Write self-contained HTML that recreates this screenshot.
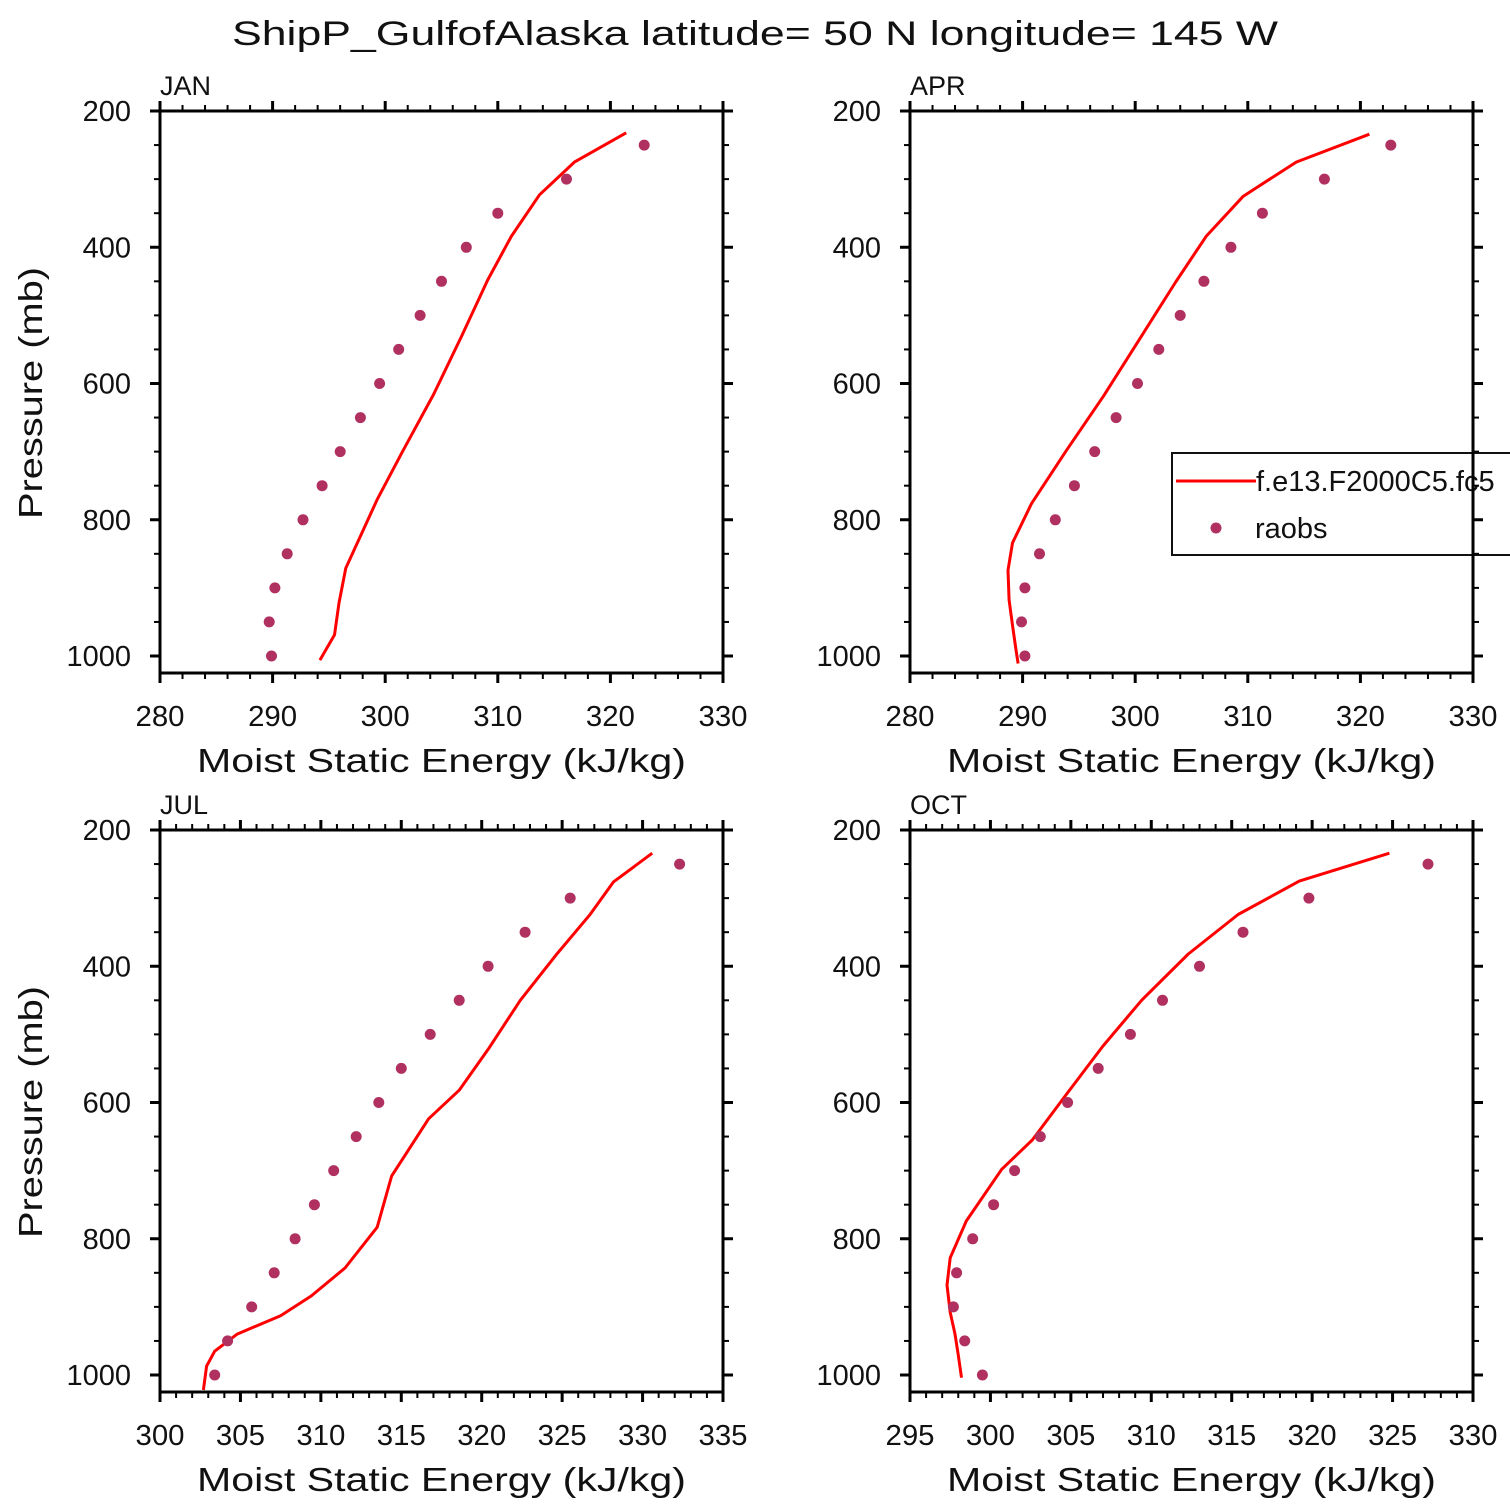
<!DOCTYPE html>
<html><head><meta charset="utf-8"><style>
html,body{margin:0;padding:0;background:#fff;}
svg{display:block;font-family:"Liberation Sans","DejaVu Sans",sans-serif;}
text{fill:#111;}
</style></head><body>
<svg id="chart" width="1510" height="1510" viewBox="0 0 1510 1510" xmlns="http://www.w3.org/2000/svg">
<rect x="0" y="0" width="1510" height="1510" fill="#fff"/>
<text x="755" y="45" text-anchor="middle" font-size="34" textLength="1046" lengthAdjust="spacingAndGlyphs">ShipP_GulfofAlaska  latitude= 50 N longitude= 145 W</text>
<g id="panels"></g>
</svg>
<script>
// ---- data ----
const obsLevels = [250,300,350,400,450,500,550,600,650,700,750,800,850,900,950,1000];
const janModelP = [232,275,323,384,448,530,616,701,770,871,922,969,1006];
const janModelX = [321.4,316.8,313.7,311.2,309.1,306.8,304.3,301.5,299.3,296.5,295.9,295.5,294.2];
const janObsX = [323.0,316.1,310.0,307.2,305.0,303.1,301.2,299.5,297.8,296.0,294.4,292.7,291.3,290.2,289.7,289.9];
const aprModelP = [234,275,325,384,451,532,618,698,776,834,874,918,955,989,1011];
const aprModelX = [320.8,314.3,309.6,306.3,303.6,300.5,297.2,293.9,290.8,289.1,288.7,288.8,289.1,289.4,289.6];
const aprObsX = [322.7,316.8,311.3,308.5,306.1,304.0,302.1,300.2,298.3,296.4,294.6,292.9,291.5,290.2,289.9,290.2];
const julModelP = [234,276,325,384,450,522,582,624,708,783,843,884,913,940,965,987,1022];
const julModelX = [330.6,328.2,326.7,324.6,322.4,320.4,318.6,316.7,314.4,313.5,311.5,309.4,307.5,304.8,303.4,302.9,302.7];
const julObsX = [332.3,325.5,322.7,320.4,318.6,316.8,315.0,313.6,312.2,310.8,309.6,308.4,307.1,305.7,304.2,303.4];
const octModelP = [234,275,324,382,450,517,592,655,698,774,828,868,908,940,971,1004];
const octModelX = [324.8,319.2,315.4,312.3,309.4,307.0,304.6,302.6,300.7,298.5,297.5,297.3,297.5,297.8,298.0,298.2];
const octObsX = [327.2,319.8,315.7,313.0,310.7,308.7,306.7,304.8,303.1,301.5,300.2,298.9,297.9,297.7,298.4,299.5];
const yTickLabels = [200,400,600,800,1000];
const xTicksA = [280,290,300,310,320,330];
const xTicksJul = [300,305,310,315,320,325,330,335];
const xTicksOct = [295,300,305,310,315,320,325,330];

const NS = "http://www.w3.org/2000/svg";
const root = document.getElementById('panels');
function mk(tag, attrs, parent){
  const e = document.createElementNS(NS, tag);
  for (const k in attrs) e.setAttribute(k, attrs[k]);
  (parent||root).appendChild(e);
  return e;
}
const panels = [
  {name:'jan', label:'JAN', x0:160, y0:111, xmin:280, xmax:330, xt:xTicksA, minor:2, mp:janModelP, mx:janModelX, ox:janObsX, ylab:true},
  {name:'apr', label:'APR', x0:910, y0:111, xmin:280, xmax:330, xt:xTicksA, minor:2, mp:aprModelP, mx:aprModelX, ox:aprObsX, ylab:false},
  {name:'jul', label:'JUL', x0:160, y0:830, xmin:300, xmax:335, xt:xTicksJul, minor:1, mp:julModelP, mx:julModelX, ox:julObsX, ylab:true},
  {name:'oct', label:'OCT', x0:910, y0:830, xmin:295, xmax:330, xt:xTicksOct, minor:1, mp:octModelP, mx:octModelX, ox:octObsX, ylab:false}
];
const W = 563, H = 562, pyScale = 545/800;
panels.forEach(p => {
  const g = mk('g', {});
  
  
  const sx = v => p.x0 + (v - p.xmin) / (p.xmax - p.xmin) * W;
  const sy = v => p.y0 + (v - 200) * pyScale;
  const line = mk('polyline', {points: p.mp.map((v,i)=>sx(p.mx[i]).toFixed(1)+','+sy(v).toFixed(1)).join(' '), fill:'none', stroke:'#ff0000', 'stroke-width':3, 'stroke-linejoin':'round'}, g);
  
  
  obsLevels.forEach((lv,i) => {
    const c = mk('circle', {cx:sx(p.ox[i]).toFixed(1), cy:sy(lv).toFixed(1), r:5.5, fill:'#b03060'}, g);
    
    
  });
  if (p.name === 'apr') {
    const lg = mk('g', {}, g);
    
    
    mk('rect', {x:1172, y:453, width:345, height:102, fill:'#fff', stroke:'#111', 'stroke-width':2}, lg);
    mk('line', {x1:1176, y1:481, x2:1256, y2:481, stroke:'#ff0000', 'stroke-width':3}, lg);
    const t1 = mk('text', {x:1256, y:491, 'font-size':29}, lg);
    t1.textContent = 'f.e13.F2000C5.fc5';
    
    
    mk('circle', {cx:1216, cy:528, r:5.5, fill:'#b03060'}, lg);
    const t2 = mk('text', {x:1255, y:538, 'font-size':29}, lg);
    t2.textContent = 'raobs';
    
    
  }
  const fr = mk('rect', {x:p.x0, y:p.y0, width:W, height:H, fill:'none', stroke:'#000', 'stroke-width':3}, g);
  
  
  for (let v = p.xmin; v <= p.xmax + 1e-6; v += p.minor) {
    const major = p.xt.some(t => Math.abs(t - v) < 1e-6);
    const L = major ? 10 : 6, sw = major ? 3 : 2, x = sx(v);
    mk('line', {x1:x, y1:p.y0+H, x2:x, y2:p.y0+H+L, stroke:'#000', 'stroke-width':sw}, g);
    mk('line', {x1:x, y1:p.y0, x2:x, y2:p.y0-L, stroke:'#000', 'stroke-width':sw}, g);
  }
  p.xt.forEach(v => {
    const t = mk('text', {x:sx(v), y:p.y0+H+53, 'text-anchor':'middle', 'font-size':29, textLength:49, lengthAdjust:'spacingAndGlyphs'}, g);
    t.textContent = v;
    
    
  });
  for (let v = 200; v <= 1000; v += 50) {
    const major = v % 200 === 0;
    const L = major ? 10 : 6, sw = major ? 3 : 2, y = sy(v);
    mk('line', {x1:p.x0, y1:y, x2:p.x0-L, y2:y, stroke:'#000', 'stroke-width':sw}, g);
    mk('line', {x1:p.x0+W, y1:y, x2:p.x0+W+L, y2:y, stroke:'#000', 'stroke-width':sw}, g);
  }
  yTickLabels.forEach(v => {
    const t = mk('text', {x:p.x0-29, y:sy(v)+10, 'text-anchor':'end', 'font-size':29}, g);
    t.textContent = v;
    
    
  });
  const lb = mk('text', {x:p.x0, y:p.y0-16, 'font-size':27}, g);
  lb.textContent = p.label;
  
  
  const xt = mk('text', {x:p.x0+W/2, y:p.y0+H+99, 'text-anchor':'middle', 'font-size':33, textLength:489, lengthAdjust:'spacingAndGlyphs'}, g);
  xt.textContent = 'Moist Static Energy (kJ/kg)';
  
  
  if (p.ylab) {
    const cy = p.y0 + 282;
    const yt = mk('text', {x:0, y:0, transform:'translate(42,'+cy+') rotate(-90)', 'text-anchor':'middle', 'font-size':33, textLength:252, lengthAdjust:'spacingAndGlyphs'}, g);
    yt.textContent = 'Pressure (mb)';
    
    
  }
});
</script>
</body></html>
